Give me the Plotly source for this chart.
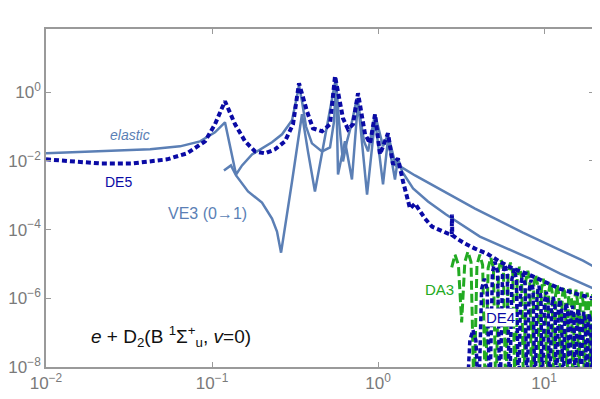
import numpy as np
import plotly.graph_objects as go

# --- data (energy in eV, cross section) ---
elastic_x = [0.01, 0.0211, 0.0424, 0.0641, 0.0847, 0.1042, 0.1197, 0.1396, 0.1517, 0.1742,
             0.200, 0.2298, 0.2642, 0.3034, 0.3251, 0.3342, 0.3483, 0.3681, 0.3999, 0.460,
             0.514, 0.5433, 0.5585, 0.5821, 0.6152, 0.6501, 0.6871, 0.7464, 0.779, 0.8241,
             0.871, 0.9204, 0.9594, 1.0, 1.072, 1.148, 1.213, 1.283, 1.319, 1.358,
             1.671, 2.20, 2.91, 3.84, 5.07, 7.46, 11.97, 17.18, 20.0]
elastic_y = [0.0166, 0.0189, 0.0217, 0.0265, 0.0371, 0.0679, 0.133, 0.00403, 0.00739, 0.0155,
             0.0232, 0.0347, 0.0594, 0.152, 0.764, 1.60, 0.546, 0.1017, 0.0324, 0.0189,
             0.0248, 0.142, 2.10, 0.142, 0.00967, 0.0371, 0.1017, 0.668, 0.199, 0.0371,
             0.0189, 0.0726, 0.228, 0.1017, 0.0265, 0.0594, 0.0189, 0.00691, 0.0111, 0.00691,
             3.77e-3, 1.80e-3, 8.60e-4, 4.10e-4, 2.09e-4, 8.17e-5, 2.79e-5, 1.25e-5, 8.31e-6]

ve3_x = [0.118, 0.130, 0.1396, 0.1648, 0.200, 0.2298, 0.2463, 0.2606, 0.3034, 0.3483,
         0.3784, 0.4169, 0.4863, 0.5585, 0.5741, 0.6324, 0.6966, 0.7578, 0.859, 0.9594,
         1.072, 1.148, 1.265, 1.319, 1.396, 1.496, 1.626, 2.00, 2.57, 4.11, 8.24, 12.5, 20.0]
ve3_y = [0.00528, 0.00739, 0.00377, 0.00129, 6.14e-4, 2.09e-4, 8.74e-5, 2.13e-5, 0.00252, 0.228,
         0.0189, 0.00129, 0.0726, 2.74, 0.00403, 0.0371, 0.00288, 0.546, 0.00105, 0.163,
         0.00206, 0.0425, 0.00288, 0.0118, 0.00493, 0.00288, 1.58e-3, 6.57e-4, 2.74e-4, 6.25e-5,
         1.42e-5, 5.19e-6, 1.89e-6]

de5_x = [0.01, 0.0211, 0.0334, 0.0536, 0.0707, 0.0847, 0.0908, 0.1042, 0.1197, 0.1377,
         0.1582, 0.1816, 0.2086, 0.2396, 0.2752, 0.3076, 0.3342, 0.3732, 0.4057, 0.460,
         0.514, 0.5508, 0.6152, 0.6596, 0.7066, 0.7578, 0.8356, 0.8957, 0.9594, 1.028,
         1.148, 1.231, 1.319, 1.415, 1.496, 1.559, 1.671, 1.919, 2.115, 2.298,
         2.64, 2.78, 2.79, 2.80, 2.992, 3.343, 3.84, 4.54, 5.43, 6.51,
         7.90, 9.46, 12.5, 16.5, 20.0]
de5_y = [0.0111, 0.00845, 0.00845, 0.0111, 0.0166, 0.0303, 0.0371, 0.1164, 0.546, 0.1164,
         0.0371, 0.0189, 0.0166, 0.0217, 0.0371, 0.1164, 1.83, 0.279, 0.0889, 0.0726,
         0.1164, 2.93, 0.174, 0.0832, 0.1164, 0.935, 0.0594, 0.0324, 0.228, 0.0155,
         0.0635, 0.0079, 0.0118, 0.00252, 8.04e-4, 4.10e-4, 5.74e-4, 2.09e-4, 1.22e-4, 1.0e-4,
         7.64e-5, 7.2e-5, 2.74e-4, 6.9e-5, 5.46e-5, 3.90e-5, 2.79e-5, 1.99e-5, 1.16e-5, 7.27e-6,
         5.19e-6, 3.46e-6, 1.89e-6, 1.26e-6, 9.66e-7]

da3_x = [2.78, 2.91, 3.05, 3.19,
         3.334, 3.48, 3.633, 3.787,
         3.944, 4.105, 4.268, 4.435,
         4.605, 4.779, 4.955, 5.135,
         5.318, 5.504, 5.693, 5.886,
         6.081, 6.280, 6.482, 6.687,
         6.896, 7.108, 7.322, 7.541,
         7.762, 7.986, 8.214, 8.445,
         8.679, 8.916, 9.157, 9.400,
         9.647, 9.897, 10.151, 10.407,
         10.667, 10.930, 11.196, 11.465,
         11.737, 12.013, 12.292, 12.574,
         12.859, 13.148, 13.440, 13.734,
         14.032, 14.334, 14.638, 14.946,
         15.257, 15.571, 15.888, 16.209,
         16.532, 16.859, 17.189, 17.523,
         17.859, 18.199, 18.542, 18.888,
         19.237, 19.589, 19.945, 20.3]
da3_y = [8.0e-6, 1.86e-5, 9.3e-6, 2.0e-7,
         1.14e-5, 2.28e-5, 1.14e-5, 1e-9,
         9.3e-6, 1.86e-5, 9.3e-6, 1e-9,
         7.6e-6, 1.52e-5, 7.6e-6, 1e-9,
         6.6e-6, 1.33e-5, 6.6e-6, 1e-9,
         5.4e-6, 1.09e-5, 5.4e-6, 1e-9,
         4.2e-6, 8.31e-6, 4.2e-6, 1e-9,
         3.2e-6, 6.35e-6, 3.2e-6, 1e-9,
         2.4e-6, 4.86e-6, 2.4e-6, 1e-9,
         1.85e-6, 3.71e-6, 1.85e-6, 1e-9,
         1.5e-6, 3.03e-6, 1.5e-6, 1e-9,
         1.24e-6, 2.48e-6, 1.24e-6, 1e-9,
         1.08e-6, 2.17e-6, 1.08e-6, 1e-9,
         9.5e-7, 1.89e-6, 9.5e-7, 1e-9,
         8.8e-7, 1.77e-6, 8.8e-7, 1e-9,
         7.8e-7, 1.55e-6, 7.8e-7, 1e-9,
         7.2e-7, 1.45e-6, 7.2e-7, 1e-9,
         6.8e-7, 1.35e-6, 6.8e-7, 1e-9]

de4_x = [3.426, 3.576, 3.729, 3.885,
         4.044, 4.207, 4.372, 4.541,
         4.713, 4.888, 5.067, 5.249,
         5.434, 5.622, 5.812, 6.007,
         6.205, 6.406, 6.610, 6.817,
         7.028, 7.241, 7.458, 7.678,
         7.902, 8.128, 8.358, 8.591,
         8.827, 9.066, 9.309, 9.554,
         9.803, 10.055, 10.311, 10.569,
         10.831, 11.096, 11.364, 11.635,
         11.909, 12.187, 12.468, 12.752,
         13.039, 13.330, 13.623, 13.920,
         14.220, 14.524, 14.830, 15.140,
         15.453, 15.769, 16.088, 16.411,
         16.736, 17.065, 17.397, 17.733,
         18.071, 18.413, 18.758, 19.106,
         19.457, 19.811, 20.3]
de4_y = [1e-9, 6e-8, 1.2e-7, 6e-8,
         1e-9, 1.86e-6, 3.71e-6, 1.86e-6,
         1e-9, 5.8e-6, 1.16e-5, 5.8e-6,
         1e-9, 4.75e-6, 9.5e-6, 4.75e-6,
         1e-9, 3.64e-6, 7.27e-6, 3.64e-6,
         1e-9, 2.6e-6, 5.19e-6, 2.6e-6,
         1e-9, 1.74e-6, 3.47e-6, 1.74e-6,
         1e-9, 1.16e-6, 2.32e-6, 1.16e-6,
         1e-9, 7.8e-7, 1.55e-6, 7.8e-7,
         1e-9, 5.6e-7, 1.11e-6, 5.6e-7,
         1e-9, 4.5e-7, 9.04e-7, 4.5e-7,
         1e-9, 3.7e-7, 7.39e-7, 3.7e-7,
         1e-9, 3.0e-7, 6.04e-7, 3.0e-7,
         1e-9, 2.5e-7, 4.93e-7, 2.5e-7,
         1e-9, 2.0e-7, 4.03e-7, 2.0e-7,
         1e-9, 1.76e-7, 3.52e-7, 1.76e-7,
         1e-9, 1.6e-7, 3.0e-7]

x_ticks = [0.01, 0.1, 1, 10]
x_ticktext = ["10<sup>−2</sup>", "10<sup>−1</sup>", "10<sup>0</sup>", "10<sup>1</sup>"]
y_ticks = [1e-8, 1e-6, 1e-4, 1e-2, 1]
y_ticktext = ["10<sup>−8</sup>", "10<sup>−6</sup>", "10<sup>−4</sup>", "10<sup>−2</sup>", "10<sup>0</sup>"]

SOLID = "#5b7fb5"
DARK = "#0a0aa5"
GREEN = "#22aa22"
FONT = "Liberation Sans, Arial, sans-serif"

fig = go.Figure()

fig.add_trace(go.Scatter(x=elastic_x, y=elastic_y, mode="lines", name="elastic",
                         line=dict(color=SOLID, width=2.5)))
fig.add_trace(go.Scatter(x=ve3_x, y=ve3_y, mode="lines", name="VE3",
                         line=dict(color=SOLID, width=2.5)))
fig.add_trace(go.Scatter(x=da3_x, y=da3_y, mode="lines", name="DA3",
                         line=dict(color=GREEN, width=3, dash="9px,4px")))
fig.add_trace(go.Scatter(x=de4_x, y=de4_y, mode="lines", name="DE4",
                         line=dict(color=DARK, width=3.5, dash="5px,3px")))
fig.add_trace(go.Scatter(x=de5_x, y=de5_y, mode="lines", name="DE5",
                         line=dict(color=DARK, width=4, dash="5px,3px")))

# curve labels
def label(text, x, y, color, size=14, italic=False, bg=None):
    fig.add_annotation(x=np.log10(x), y=np.log10(y), xref="x", yref="y", text=text,
                       showarrow=False, bgcolor=bg, borderpad=0,
                       font=dict(family=FONT, size=size, color=color,
                                 style="italic" if italic else "normal"))

label("elastic", 0.032, 0.0556, SOLID, 14, italic=True)
label("DE5", 0.0272, 0.00236, DARK, 14)
label("VE3 (0→1)", 0.0933, 2.93e-4, SOLID, 16)
label("DA3", 2.36, 1.77e-6, GREEN, 15, bg="white")
label("DE4", 5.43, 2.7e-7, DARK, 15, bg="white")

fig.add_annotation(x=np.log10(0.0566), y=np.log10(7.5e-8), xref="x", yref="y",
                   text="<i>e</i> + D<sub>2</sub>(B <sup>1</sup>Σ<sup>+</sup><sub>u</sub>, <i>v</i>=0)",
                   showarrow=False, font=dict(family=FONT, size=19, color="#111"))

axis_common = dict(type="log", showline=True, linecolor="#9a9a9a", linewidth=1.5,
                   mirror="allticks", ticks="inside", ticklen=5, tickcolor="#9a9a9a",
                   showgrid=False, zeroline=False, automargin=False,
                   tickfont=dict(family=FONT, size=17, color="#7a7a7a"))

fig.update_xaxes(range=[-2, np.log10(20)], tickvals=x_ticks, ticktext=x_ticktext, **axis_common)
fig.update_yaxes(range=[-8, 1.84], tickvals=y_ticks, ticktext=y_ticktext, **axis_common)

# the page body adds an 8px offset, so margins are shifted to keep the frame in place
fig.update_layout(width=600, height=399, showlegend=False,
                  margin=dict(l=38, r=14, t=21, b=40),
                  plot_bgcolor="white", paper_bgcolor="white",
                  font=dict(family=FONT))

fig.write_html("out.html")
